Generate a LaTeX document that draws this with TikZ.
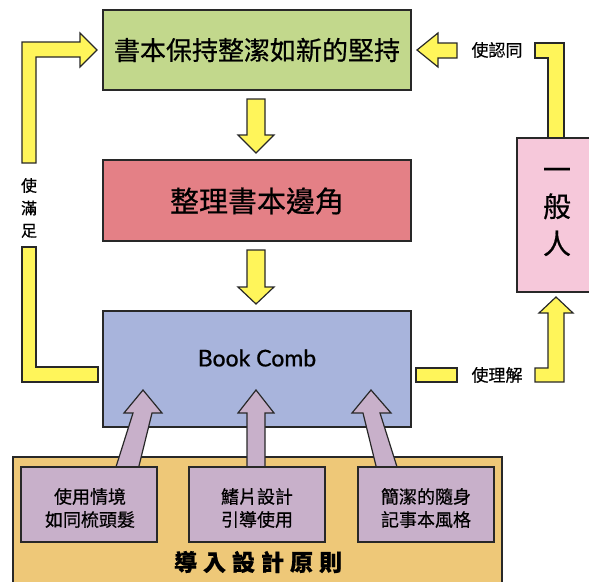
\documentclass[tikz,border=0pt]{standalone}
\usepackage{fontspec}
\setmainfont{Lato}
\newfontfamily\cjk[FakeBold=0.6]{Noto Sans CJK TC}
\newfontfamily\latm[FakeBold=0.8]{Lato}
\definecolor{cgreen}{RGB}{194,216,140}
\definecolor{cred}{RGB}{228,128,134}
\definecolor{cblue}{RGB}{168,180,220}
\definecolor{cpink}{RGB}{246,200,218}
\definecolor{corange}{RGB}{238,200,120}
\definecolor{cpurple}{RGB}{200,176,202}
\definecolor{cyellow}{RGB}{255,245,90}
\definecolor{cline}{RGB}{40,40,40}
\begin{document}
\begin{tikzpicture}[x=1pt,y=-1pt,
  box/.style={draw=cline,line width=1.3pt,inner sep=0pt},
  yarrow/.style={draw=cline,fill=cyellow,line width=1.2pt,line join=miter},
  parrow/.style={draw=cline,fill=cpurple,line width=1.2pt,line join=miter},
  lbl/.style={font=\cjk\fontsize{17}{20}\selectfont,inner sep=0pt},
  ptext/.style={font=\cjk\fontsize{18}{23}\selectfont,align=center,inner sep=0pt}]
\useasboundingbox (0,0) rectangle (589,581);
% main boxes
\path[box,fill=cgreen] (103,10) rectangle (411,90);
\node[font=\cjk\fontsize{26}{30}\selectfont] (green) at (257,50) {書本保持整潔如新的堅持};
\path[box,fill=cred] (103,160) rectangle (411,241);
\node[font=\cjk\fontsize{29}{32}\selectfont] (red) at (257,201) {整理書本邊角};
\path[box,fill=cblue] (103,311) rectangle (411,427);
\node[font=\latm\fontsize{23}{26}\selectfont] (blue) at (257,358) {Book Comb};
\path[box,fill=cpink] (517,138) rectangle (590,292);
\node[font=\cjk\fontsize{28}{37}\selectfont,align=center] (pink) at (557,212) {一\\般\\人};
% orange box
\path[box,fill=corange] (13,457) rectangle (502,600);
\node[font=\cjk\bfseries\fontsize{23}{26}\selectfont] (orange) at (258,562) {導\hspace{6pt}入\hspace{6pt}設\hspace{6pt}計\hspace{6pt}原\hspace{6pt}則};
% purple arrows
\path[parrow] (115,470) -- (133,413) -- (124,413) -- (143,390) -- (162,413) -- (152,413) -- (138,470) -- cycle;
\path[parrow] (247,470) -- (247,413) -- (238,413) -- (256,390) -- (274,413) -- (265,413) -- (265,470) -- cycle;
\path[parrow] (377,470) -- (363,413) -- (352,413) -- (371,390) -- (391,413) -- (380,413) -- (398,470) -- cycle;
% purple boxes
\path[box,fill=cpurple] (21,467) rectangle (157,542);
\node[ptext] (p1) at (90,508) {使用情境\\如同梳頭髮};
\path[box,fill=cpurple] (189,467) rectangle (325,542);
\node[ptext] (p2) at (257,508) {鰭片設計\\引導使用};
\path[box,fill=cpurple] (358,467) rectangle (494,542);
\node[ptext] (p3) at (426,508) {簡潔的隨身\\記事本風格};
% yellow down arrows
\path[yarrow] (247,99) -- (265,99) -- (265,135) -- (274,135) -- (256,153) -- (238,135) -- (247,135) -- cycle;
\path[yarrow] (247,250) -- (265,250) -- (265,287) -- (274,287) -- (256,304) -- (238,287) -- (247,287) -- cycle;
% left loop
\path[yarrow] (22,163) -- (22,42) -- (80,42) -- (80,33) -- (97,50) -- (80,67) -- (80,57) -- (36,57) -- (36,163) -- cycle;
\path[yarrow] (22,247) -- (22,382) -- (98,382) -- (98,367) -- (36,367) -- (36,247) -- cycle;
\node[lbl,font=\cjk\fontsize{16}{22.5}\selectfont,align=center] (l1) at (29,208) {使\\滿\\足};
% top right
\path[yarrow] (535,43) -- (564,43) -- (564,138) -- (548,138) -- (548,58) -- (535,58) -- cycle;
\path[yarrow] (457,43) -- (457,58) -- (438,58) -- (438,67) -- (417,50) -- (438,33) -- (438,43) -- cycle;
\node[lbl] (l2) at (497,50) {使認同};
% bottom right
\path[yarrow] (416,368) rectangle (457,382);
\path[yarrow] (535,368) -- (548,368) -- (548,313) -- (539,313) -- (556,297) -- (573,313) -- (564,313) -- (564,382) -- (535,382) -- cycle;
\node[lbl] (l3) at (497,375) {使理解};
\end{tikzpicture}
\end{document}
